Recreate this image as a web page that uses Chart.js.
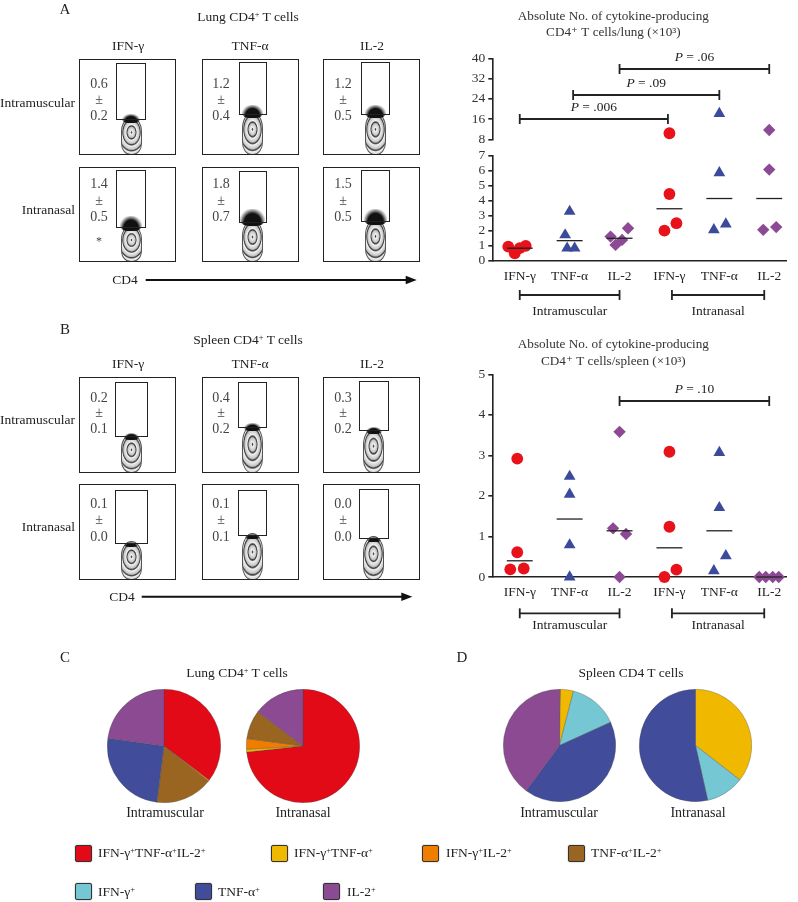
<!DOCTYPE html>
<html><head><meta charset="utf-8">
<script src="https://cdn.jsdelivr.net/npm/chart.js@4.4.1/dist/chart.umd.min.js"></script>
<style>
html,body{margin:0;padding:0;background:#fff;}
#fig{position:relative;width:798px;height:902px;overflow:hidden;font-family:'Liberation Serif','DejaVu Serif',serif;color:#222;background:#fff;}
.t{position:absolute;white-space:nowrap;line-height:1;will-change:transform;}
.t sup{font-size:0.62em;vertical-align:0.5em;line-height:0;}
.panel{position:absolute;border:1.5px solid #222;box-sizing:border-box;background:#fff;overflow:hidden;}
.gate{position:absolute;border:1.5px solid #222;box-sizing:border-box;}
.blob{position:absolute;border:1px solid #555;box-sizing:border-box;border-radius:50% 50% 45% 45% / 38% 38% 30% 30%;
 background:repeating-radial-gradient(ellipse 60% 45% at 50% 40%, #444 0px, #555 0.5px, #f0f0f0 1.2px, #c6c6c6 3.5px, #6a6a6a 4.2px);}
.patch{position:absolute;border-radius:45% 45% 35% 35%;background:radial-gradient(ellipse at 50% 85%, #111 0%, #111 48%, rgba(20,20,20,0.35) 66%, rgba(0,0,0,0) 78%);}
.sw{position:absolute;width:17px;height:17px;box-sizing:border-box;border:1.6px solid #333;border-radius:2px;box-shadow:0 0 1.5px rgba(0,0,0,0.45);}
canvas{position:absolute;}
</style></head><body><div id="fig"></div>
<script>
// ================= DATA =================
const cytokines = ['IFN-γ', 'TNF-α', 'IL-2'];
const routes = ['Intramuscular', 'Intranasal'];
const xCategoryLabels = ['IFN-γ', 'TNF-α', 'IL-2', 'IFN-γ', 'TNF-α', 'IL-2'];

// Flow cytometry gate frequencies (% of CD4+ T cells, mean ± SD); rows = routes, cols = cytokines
const lungGateMean   = [[0.6, 1.2, 1.2], [1.4, 1.8, 1.5]];
const lungGateSD     = [[0.2, 0.4, 0.5], [0.5, 0.7, 0.5]];
const spleenGateMean = [[0.2, 0.4, 0.3], [0.1, 0.1, 0.0]];
const spleenGateSD   = [[0.1, 0.2, 0.2], [0.0, 0.1, 0.0]];

// Absolute No. of cytokine-producing CD4+ T cells (x10^3), one value per mouse
const lungIM_IFNg = [0.93, 0.49, 0.83, 0.98];
const lungIM_TNFa = [3.27, 1.71, 0.83, 0.83];
const lungIM_IL2  = [1.60, 1.05, 1.38, 2.16];
const lungIN_IFNg = [10.4, 4.43, 2.00, 2.49];
const lungIN_TNFa = [18.2, 5.83, 2.05, 2.43];
const lungIN_IL2  = [11.7, 6.05, 2.05, 2.23];
const lungMeans   = [0.83, 1.33, 1.49, 3.45, 4.13, 4.13];

const spleenIM_IFNg = [2.92, 0.61, 0.19, 0.21];
const spleenIM_TNFa = [2.48, 2.04, 0.79, 0.00];
const spleenIM_IL2  = [3.58, 1.20, 1.06, 0.00];
const spleenIN_IFNg = [3.09, 1.24, 0.18, 0.00];
const spleenIN_TNFa = [3.07, 1.71, 0.52, 0.15];
const spleenIN_IL2  = [0.00, 0.00, 0.00, 0.00];
const spleenMeans   = [0.40, 1.43, 1.14, 0.72, 1.14, 0.00];

// horizontal spread of each mouse inside its column (category units)
const lungJitter   = [[-0.23,-0.10,0,0.12],[0,-0.09,-0.05,0.10],[-0.18,-0.08,0.05,0.17],[0,0,-0.10,0.14],[0,0,-0.11,0.13],[0,0,-0.12,0.14]];
const spleenJitter = [[-0.05,-0.05,-0.19,0.08],[0,0,0,0],[0,-0.13,0.13,0],[0,0,0.14,-0.10],[0,0,0.13,-0.11],[-0.2,-0.07,0.07,0.19]];

// y-axis ticks (lung axis is broken between 7 and 8)
const lungLowTicks  = [0, 1, 2, 3, 4, 5, 6, 7];
const lungHighTicks = [8, 16, 24, 32, 40];
const spleenTicks   = [0, 1, 2, 3, 4, 5];

// P-value comparisons (from column, to column, bracket level, text)
const lungPFrom  = [0, 1.07, 2];
const lungPTo    = [2.97, 4, 5];
const lungPLevel = [16, 25.5, 35.7];
const lungPText  = ['.006', '.09', '.06'];
const spleenPFrom  = [2];
const spleenPTo    = [5];
const spleenPLevel = [4.33];
const spleenPText  = ['.10'];

// Route grouping under x axis (column ranges)
const groupFrom = [0, 3.05];
const groupTo   = [2, 4.9];

// Cytokine subset composition (% of responding CD4 T cells)
const subsetLabels = ['IFN-γ⁺TNF-α⁺IL-2⁺', 'IFN-γ⁺TNF-α⁺', 'IFN-γ⁺IL-2⁺', 'TNF-α⁺IL-2⁺', 'IFN-γ⁺', 'TNF-α⁺', 'IL-2⁺'];
const subsetColors = ['#E30A17', '#F1B800', '#EF7D00', '#9A6521', '#75C7D4', '#414C9A', '#8B4A92'];
const lungIMSubsets   = [35.3, 0, 0.4, 16.3, 0, 25.2, 22.8];
const lungINSubsets   = [73.3, 0.8, 3.0, 8.2, 0, 0, 14.7];
const spleenIMSubsets = [0.3, 3.7, 0, 0, 14.2, 41.9, 39.9];
const spleenINSubsets = [0, 35.5, 0, 0, 11.0, 53.5, 0];

// ================= RENDER =================
const FONT = "'Liberation Serif', 'DejaVu Serif', serif";
Chart.defaults.font.family = FONT;
Chart.defaults.color = '#222';
const fig = document.getElementById('fig');

function sup(s) { return s.replace(/⁺/g, '<sup>+</sup>'); }
function txt(parent, x, y, html, o = {}) {
  const d = document.createElement('div');
  d.className = 't';
  d.innerHTML = html;
  const ax = o.align === 'left' ? '0' : o.align === 'right' ? '-100%' : '-50%';
  d.style.cssText = `left:${x}px;top:${y}px;font-size:${o.size || 13}px;color:${o.color || '#222'};transform:translate(${ax},-50%);` + (o.italic ? 'font-style:italic;' : '');
  parent.appendChild(d);
  return d;
}
function box(parent, cls, x, y, w, h) {
  const d = document.createElement('div');
  d.className = cls;
  d.style.left = x + 'px'; d.style.top = y + 'px'; d.style.width = w + 'px'; d.style.height = h + 'px';
  parent.appendChild(d);
  return d;
}

// ---------- panel letters ----------
txt(fig, 65, 9.3, 'A', {size: 15});
txt(fig, 65, 329.3, 'B', {size: 15});
txt(fig, 65, 657.3, 'C', {size: 15});
txt(fig, 461.7, 657.3, 'D', {size: 15});

// ---------- flow cytometry blocks ----------
const panelX = [79.3, 201.7, 323.3];
const panelW = 97;
function flowBlock(cfg) {
  txt(fig, 248, cfg.titleY, cfg.title, {size: 13.5});
  cytokines.forEach((c, j) => txt(fig, panelX[j] + panelW / 2, cfg.headerY, c, {size: 13.5}));
  routes.forEach((r, i) => {
    const top = cfg.rowTop[i];
    txt(fig, 75.3, top + cfg.panelH / 2 - 4.5, r, {align: 'right', size: 13.5});
    cytokines.forEach((c, j) => {
      const p = box(fig, 'panel', panelX[j], top, panelW, cfg.panelH);
      const g = cfg.gates[i][j];
      const gcx = (g[0] + g[2]) / 2;
      const blobTop = g[3] - 3;
      box(p, 'blob', gcx - 10.5, blobTop, 21, cfg.panelH - blobTop - 1);
      const m = cfg.mean[i][j];
      const ph = 5 + m * 7;
      const pw = Math.min(g[2] - g[0] - 3, 14 + m * 6);
      box(p, 'patch', gcx - pw / 2, g[3] + 3 - ph, pw, ph);
      box(p, 'gate', g[0], g[1], g[2] - g[0], g[3] - g[1]);
      const ny = cfg.numY[i];
      txt(p, 18.4, ny[0], m.toFixed(1), {size: 14, color: '#444'});
      txt(p, 18.4, ny[1], '±', {size: 14, color: '#444'});
      txt(p, 18.4, ny[2], cfg.sd[i][j].toFixed(1), {size: 14, color: '#444'});
      if (cfg.star && cfg.star[0] === i && cfg.star[1] === j) txt(p, 18.4, 73.3, '*', {size: 12, color: '#444'});
    });
  });
  txt(fig, cfg.cd4X, cfg.arrowY, 'CD4', {size: 13.5});
}
flowBlock({
  title: 'Lung CD4<sup>+</sup> T cells', titleY: 16.7, headerY: 46, rowTop: [59.3, 166.7], panelH: 95.5,
  gates: [[[36, 2.7, 66, 60], [36.3, 2, 64, 54.7], [37, 2, 65.4, 54.7]],
          [[36, 2.6, 66, 60.3], [36.3, 3.3, 64, 55.6], [37, 2.6, 65.6, 54]]],
  numY: [[23.4, 40, 55.7], [16.6, 33.3, 49.3]],
  mean: lungGateMean, sd: lungGateSD, star: [1, 0], cd4X: 125, arrowY: 280
});
flowBlock({
  title: 'Spleen CD4<sup>+</sup> T cells', titleY: 340, headerY: 364, rowTop: [376.7, 483.7], panelH: 96,
  gates: [[[34.4, 4.3, 67.4, 59], [35, 4.3, 64.3, 50.6], [35, 3.6, 64.4, 53.3]],
          [[34.4, 5.3, 67.4, 59.6], [35, 5.3, 64.3, 51.6], [35, 4.3, 64.4, 54]]],
  numY: [[20, 35.6, 51.6], [19.6, 35.6, 52.3]],
  mean: spleenGateMean, sd: spleenGateSD, cd4X: 121.7, arrowY: 596.7
});
// CD4 arrows
(function () {
  const ns = 'http://www.w3.org/2000/svg';
  const svg = document.createElementNS(ns, 'svg');
  svg.setAttribute('width', 798); svg.setAttribute('height', 902);
  svg.style.cssText = 'position:absolute;left:0;top:0;pointer-events:none;';
  [[145.7, 416.7, 280], [141.7, 412.3, 596.7]].forEach(([x1, x2, y]) => {
    const l = document.createElementNS(ns, 'line');
    l.setAttribute('x1', x1); l.setAttribute('x2', x2 - 8); l.setAttribute('y1', y); l.setAttribute('y2', y);
    l.setAttribute('stroke', '#111'); l.setAttribute('stroke-width', 2);
    svg.appendChild(l);
    const t = document.createElementNS(ns, 'polygon');
    t.setAttribute('points', `${x2},${y} ${x2 - 11},${y - 4.2} ${x2 - 11},${y + 4.2}`);
    t.setAttribute('fill', '#111');
    svg.appendChild(t);
  });
  fig.appendChild(svg);
})();

// ---------- scatter (absolute numbers) ----------
const markerStyles = ['circle', 'triangle', 'rectRot'];
const markerColors = ['#E8121B', '#3C4A9C', '#8C4A94'];
const markerRadius = [5.9, 6.8, 6.2];

const annotPlugin = {
  id: 'annot',
  afterDraw(chart, args, o) {
    const {ctx, chartArea} = chart;
    const xs = chart.scales.x;
    ctx.save();
    ctx.strokeStyle = '#222'; ctx.fillStyle = '#222'; ctx.lineWidth = 1.8;
    const seg = (x1, y1, x2, y2) => { ctx.beginPath(); ctx.moveTo(x1, y1); ctx.lineTo(x2, y2); ctx.stroke(); };
    const bracket = (x1, x2, y, cap) => { seg(x1, y, x2, y); seg(x1, y - cap, x1, y + cap); seg(x2, y - cap, x2, y + cap); };
    ctx.textBaseline = 'middle';
    o.pFrom.forEach((f, i) => {
      const ys = chart.scales[o.axisFor(o.pLevel[i])];
      const y = Math.round(ys.getPixelForValue(o.pLevel[i]));
      const x1 = xs.getPixelForValue(f), x2 = xs.getPixelForValue(o.pTo[i]);
      bracket(x1, x2, y, 5);
      ctx.font = `italic 13.5px ${FONT}`; const wP = ctx.measureText('P').width;
      const rest = ' = ' + o.pText[i];
      ctx.font = `13.5px ${FONT}`; const wR = ctx.measureText(rest).width;
      const start = (x1 + x2) / 2 - (wP + wR) / 2;
      ctx.textAlign = 'left';
      ctx.font = `italic 13.5px ${FONT}`; ctx.fillText('P', start, y - 11.5);
      ctx.font = `13.5px ${FONT}`; ctx.fillText(rest, start + wP, y - 11.5);
    });
    groupFrom.forEach((f, i) => {
      const x1 = xs.getPixelForValue(f), x2 = xs.getPixelForValue(groupTo[i]);
      bracket(x1, x2, chartArea.bottom + o.groupBracket, 5);
      ctx.font = `13.5px ${FONT}`; ctx.textAlign = 'center';
      ctx.fillText(routes[i], (x1 + x2) / 2, chartArea.bottom + o.groupLabel);
    });
    ctx.restore();
  }
};

function scatterChart(left, top, w, h, cfg) {
  const cv = document.createElement('canvas');
  cv.width = w; cv.height = h;
  cv.style.cssText = `left:${left}px;top:${top}px;width:${w}px;height:${h}px;`;
  fig.appendChild(cv);
  const broken = !!cfg.highTicks;
  const axisFor = v => (broken && v >= cfg.highTicks[0]) ? 'yHigh' : 'y';
  const datasets = [];
  cfg.means.forEach((m, i) => datasets.push({
    type: 'line', data: [{x: i - 0.26, y: m}, {x: i + 0.26, y: m}], yAxisID: axisFor(m),
    borderColor: '#222', borderWidth: 1.3, pointRadius: 0, order: 0, clip: false
  }));
  cfg.groups.forEach((vals, i) => {
    const k = i % 3;
    const buckets = {};
    vals.forEach((v, j) => { const a = axisFor(v); (buckets[a] = buckets[a] || []).push({x: i + cfg.jitter[i][j], y: v}); });
    Object.keys(buckets).forEach(a => datasets.push({
      type: 'scatter', data: buckets[a], yAxisID: a, pointStyle: markerStyles[k], pointRadius: markerRadius[k],
      backgroundColor: markerColors[k], borderWidth: 0, order: 1, clip: false
    }));
  });
  const yAxis = (ticks, extra) => Object.assign({
    type: 'linear', position: 'left', min: ticks[0], max: ticks[ticks.length - 1],
    afterBuildTicks: s => { s.ticks = ticks.map(v => ({value: v})); },
    ticks: {font: {size: 13.5}, color: '#333', padding: 3, autoSkip: false},
    grid: {display: true, drawOnChartArea: false, drawTicks: true, tickLength: 4, color: '#222', lineWidth: 1.6},
    border: {display: true, color: '#222', width: 1.6},
    afterFit: s => { s.width = cfg.axisLeft; }
  }, extra);
  const scales = {
    x: {
      type: 'linear', min: -0.55, max: 5.35,
      afterBuildTicks: s => { s.ticks = xCategoryLabels.map((_, i) => ({value: i})); },
      ticks: {callback: v => xCategoryLabels[v] ?? '', font: {size: 13.5}, color: '#222', padding: 7.3, maxRotation: 0, autoSkip: false},
      grid: {display: false, drawTicks: false},
      border: {display: true, color: '#222', width: 1.6},
      afterFit: s => { s.height = cfg.xAxisH; }
    }
  };
  if (broken) {
    scales.y = yAxis(cfg.lowTicks, {stack: 'v', stackWeight: cfg.weights[0], weight: 1});
    scales.yGap = {type: 'linear', position: 'left', min: 0, max: 1, stack: 'v', stackWeight: cfg.weights[1], weight: 2,
      ticks: {display: false}, grid: {display: false}, border: {display: false}, afterFit: s => { s.width = cfg.axisLeft; }};
    scales.yHigh = yAxis(cfg.highTicks, {stack: 'v', stackWeight: cfg.weights[2], weight: 3});
  } else {
    scales.y = yAxis(cfg.lowTicks, {});
  }
  return new Chart(cv, {
    data: {datasets},
    options: {
      responsive: false, animation: false, devicePixelRatio: 1, events: [],
      layout: {padding: {left: 0, right: cfg.padRight, top: 0, bottom: 0}},
      scales,
      plugins: {
        legend: {display: false}, tooltip: {enabled: false},
        title: {display: true, text: cfg.title, color: '#333', font: {size: 13.2, weight: 'normal', lineHeight: cfg.titleLH},
                padding: {top: cfg.titlePad[0], bottom: cfg.titlePad[1]}},
        annot: {pFrom: cfg.pFrom, pTo: cfg.pTo, pLevel: cfg.pLevel, pText: cfg.pText, axisFor,
                groupBracket: cfg.groupBracket, groupLabel: cfg.groupLabel}
      }
    },
    plugins: [annotPlugin]
  });
}

scatterChart(440, 0, 358, 320, {
  title: ['Absolute No. of cytokine-producing', 'CD4⁺ T cells/lung (×10³)'], titleLH: 16.3 / 13.2, titlePad: [8.3, 17.4],
  groups: [lungIM_IFNg, lungIM_TNFa, lungIM_IL2, lungIN_IFNg, lungIN_TNFa, lungIN_IL2],
  jitter: lungJitter, means: lungMeans,
  lowTicks: lungLowTicks, highTicks: lungHighTicks, weights: [105.4, 16, 81],
  pFrom: lungPFrom, pTo: lungPTo, pLevel: lungPLevel, pText: lungPText,
  axisLeft: 52.3, padRight: 11.3, xAxisH: 59.3, groupBracket: 34.3, groupLabel: 50.5
});
scatterChart(440, 320, 358, 320, {
  title: ['Absolute No. of cytokine-producing', 'CD4⁺ T cells/spleen (×10³)'], titleLH: 17 / 13.2, titlePad: [16.2, 4.1],
  groups: [spleenIM_IFNg, spleenIM_TNFa, spleenIM_IL2, spleenIN_IFNg, spleenIN_TNFa, spleenIN_IL2],
  jitter: spleenJitter, means: spleenMeans,
  lowTicks: spleenTicks,
  pFrom: spleenPFrom, pTo: spleenPTo, pLevel: spleenPLevel, pText: spleenPText,
  axisLeft: 52.3, padRight: 11.3, xAxisH: 63, groupBracket: 36.3, groupLabel: 48.5
});

// ---------- pies ----------
function pieChart(cx, cy, r, values) {
  const s = Math.round(2 * r);
  const cv = document.createElement('canvas');
  cv.width = s; cv.height = s;
  cv.style.cssText = `left:${cx - s / 2}px;top:${cy - s / 2}px;width:${s}px;height:${s}px;`;
  fig.appendChild(cv);
  return new Chart(cv, {
    type: 'pie',
    data: {labels: subsetLabels, datasets: [{data: values, backgroundColor: subsetColors, borderColor: 'rgba(70,70,70,0.55)', borderWidth: 0.6}]},
    options: {responsive: false, animation: false, devicePixelRatio: 1, events: [], layout: {padding: 0},
      plugins: {legend: {display: false}, tooltip: {enabled: false}}}
  });
}
txt(fig, 236.7, 673.3, 'Lung CD4<sup>+</sup> T cells', {size: 13.5});
txt(fig, 630.7, 673.3, 'Spleen CD4 T cells', {size: 13.5});
pieChart(164, 746, 57, lungIMSubsets);
pieChart(303, 745.7, 57, lungINSubsets);
pieChart(559.7, 745, 56.5, spleenIMSubsets);
pieChart(695.7, 745, 56.5, spleenINSubsets);
[[165, routes[0]], [303.3, routes[1]], [559.3, routes[0]], [698.3, routes[1]]].forEach(([x, s]) => txt(fig, x, 813.3, s, {size: 14}));

// ---------- legend ----------
const legendPos = [[75, 853], [271, 853], [422.3, 853], [567.7, 853], [75, 891.7], [195, 891.7], [323.3, 891.7]];
subsetLabels.forEach((lab, i) => {
  const [x, y] = legendPos[i];
  const sw = box(fig, 'sw', x, y - 8.5, 17, 17);
  sw.style.background = subsetColors[i];
  txt(fig, x + 23.3, y, sup(lab), {align: 'left', size: 13.5});
});
</script></body></html>
